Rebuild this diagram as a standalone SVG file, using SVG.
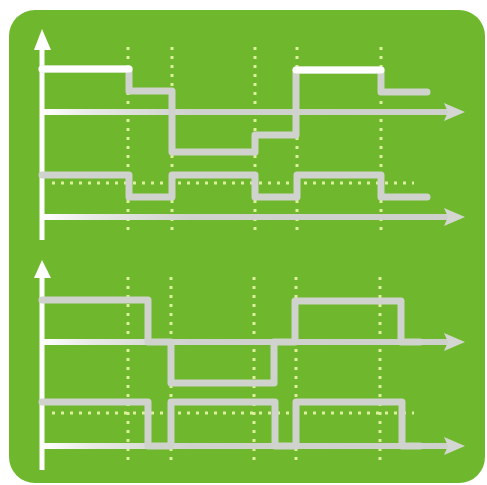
<svg xmlns="http://www.w3.org/2000/svg" width="487" height="485" viewBox="0 0 487 485">
<defs>
<style>
.bg{fill:#6fb82d}
.axisv{stroke:#ffffff;stroke-width:5;fill:none}
.axish{stroke:url(#silverH);stroke-width:6;fill:none}
.wave{stroke:#cfd2cd;stroke-width:7;fill:none;stroke-linejoin:round;stroke-linecap:round}
.white{stroke:#ffffff}
.dot{stroke:#dcf09e;stroke-width:3;stroke-dasharray:3 6;fill:none}
.head{fill:#d4d6d2}
.headw{fill:#ffffff}
</style>
<linearGradient id="silverH" gradientUnits="userSpaceOnUse" x1="42" y1="0" x2="464" y2="0">
<stop offset="0" stop-color="#ffffff"/>
<stop offset="0.12" stop-color="#e8eae6"/>
<stop offset="0.35" stop-color="#cfd2cd"/>
<stop offset="1" stop-color="#cdd0cb"/>
</linearGradient>
</defs>
<rect class="bg" x="9" y="10" width="476" height="473" rx="26"/>
<g id="grid">
<path class="dot" d="M128 47V232M172 47V232M255 47V232M297 47V232M381 47V232"/>
<path class="dot" d="M52 183H414"/>
<path class="dot" d="M128 277V463M171 277V463M254 277V463M296 277V463M380 277V463"/>
<path class="dot" d="M52 413H414"/>
</g>
<g id="connectors">
<path class="axish" d="M42 112H450"/>
<polygon class="head" points="444,103 465,112 444,121 448,112"/>
<path class="axish" d="M42 217H450"/>
<polygon class="head" points="444,208 465,217 444,226 448,217"/>
<path class="axish" d="M42 342H450"/>
<polygon class="head" points="444,333 465,342 444,351 448,342"/>
<path class="axish" d="M42 446H450"/>
<polygon class="head" points="444,437 465,446 444,455 448,446"/>
<path class="axisv" d="M42 240V48"/>
<polygon class="headw" points="34,50 42,29 51,50"/>
<path class="axisv" d="M42 470V276"/>
<polygon class="headw" points="34,278 42,260 51,278"/>
</g>
<g id="wave1">
<path class="wave" d="M42 69H129V91H172V152H255V135H296V70H381V92H427"/>
<path class="wave white" d="M42 69H129"/>
<path class="wave white" d="M296 70H381"/>
</g>
<g id="wave2">
<path class="wave" d="M42 175H129V197H172V175H255V197H297V175H381V197H427"/>
</g>
<g id="wave3">
<path class="wave" d="M42 300H148V342H171V383H274V342H295V301H401V342H420"/>
</g>
<g id="wave4">
<path class="wave" d="M42 402H148V446H171V402H275V446H296V402H402V446H420"/>
</g>
</svg>
